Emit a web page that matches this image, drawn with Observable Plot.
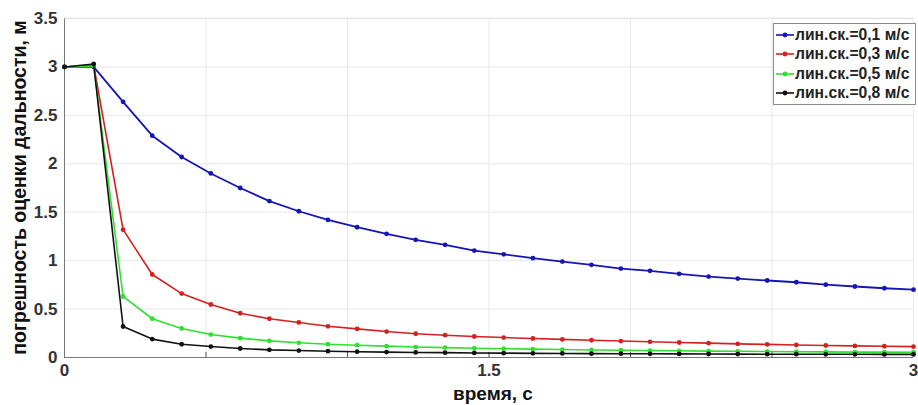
<!DOCTYPE html>
<html>
<head>
<meta charset="utf-8">
<script src="https://cdn.jsdelivr.net/npm/d3@7"></script>
<script src="https://cdn.jsdelivr.net/npm/@observablehq/plot@0.6"></script>
<style>
  html, body { margin: 0; padding: 0; background: #fff; }
  #wrap { position: relative; width: 918px; height: 405px; font-family: "Liberation Sans", Arial, sans-serif; }
  #legend { position: absolute; left: 773px; top: 23px; width: 141px; background: #fff; border: 1px solid #8a8a8a; padding: 1px 0 1px 0; }
  .row { display: flex; align-items: center; height: 19.5px; font-weight: bold; font-size: 15.7px; color: #222; white-space: nowrap; }
  .row svg { margin: 0 1px 0 2px; }
</style>
</head>
<body>
<div id="wrap"><div id="legend"></div></div>
<script>
// time, s
const time = [0, 0.103, 0.207, 0.310, 0.414, 0.517, 0.621, 0.724, 0.828, 0.931, 1.034, 1.138, 1.241, 1.345, 1.448, 1.552, 1.655, 1.759, 1.862, 1.966, 2.069, 2.172, 2.276, 2.379, 2.483, 2.586, 2.690, 2.793, 2.897, 3.0];
// range estimate error, m
const v01 = [3.00, 3.00, 2.64, 2.29, 2.07, 1.90, 1.75, 1.615, 1.51, 1.42, 1.345, 1.277, 1.215, 1.163, 1.104, 1.065, 1.025, 0.99, 0.957, 0.918, 0.895, 0.864, 0.836, 0.815, 0.795, 0.777, 0.752, 0.733, 0.715, 0.70];
const v03 = [3.00, 3.02, 1.32, 0.857, 0.66, 0.547, 0.457, 0.40, 0.362, 0.322, 0.296, 0.268, 0.245, 0.23, 0.217, 0.206, 0.196, 0.187, 0.178, 0.17, 0.162, 0.155, 0.148, 0.141, 0.135, 0.129, 0.124, 0.12, 0.116, 0.112];
const v05 = [3.00, 3.01, 0.63, 0.40, 0.30, 0.237, 0.20, 0.172, 0.152, 0.137, 0.127, 0.117, 0.108, 0.102, 0.096, 0.091, 0.086, 0.082, 0.078, 0.075, 0.072, 0.069, 0.066, 0.064, 0.062, 0.060, 0.058, 0.056, 0.055, 0.054];
const v08 = [3.00, 3.03, 0.32, 0.19, 0.137, 0.113, 0.093, 0.079, 0.072, 0.065, 0.060, 0.056, 0.052, 0.050, 0.047, 0.045, 0.043, 0.042, 0.040, 0.039, 0.038, 0.037, 0.036, 0.035, 0.034, 0.034, 0.033, 0.033, 0.032, 0.032];

const seriesNames = ["лин.ск.=0,1 м/с", "лин.ск.=0,3 м/с", "лин.ск.=0,5 м/с", "лин.ск.=0,8 м/с"];
const seriesValues = [v01, v03, v05, v08];
const seriesColors = ["#1515b5", "#d42020", "#2fe02f", "#111111"];

const xTicks = [0, 0.5, 1, 1.5, 2, 2.5, 3];
const xTickLabels = ["0", "", "", "1.5", "", "", "3"];
const yTicks = [0, 0.5, 1, 1.5, 2, 2.5, 3, 3.5];
const yTickLabels = ["0", "0.5", "1", "1.5", "2", "2.5", "3", "3.5"];

const xLabel = "время, с";
const yLabel = "погрешность оценки дальности, м";

const rows = [];
seriesValues.forEach((vals, s) => vals.forEach((v, i) => rows.push({t: time[i], v, s})));

const W = 918, H = 405, mt = 18, mb = 48, ml = 64, mr = 5;
const plotH = H - mt - mb;

const marks = [
  Plot.ruleY(yTicks.slice(1), {stroke: "#e8e8e8", strokeWidth: 1}),
  Plot.ruleX(xTicks.slice(1), {stroke: "#e8e8e8", strokeWidth: 1}),
  Plot.ruleX(xTicks.slice(1, -1), {stroke: "#555", strokeWidth: 1, insetTop: plotH - 5}),
  Plot.axisY({ticks: yTicks, tickSize: 0, tickPadding: 7, tickFormat: (d, i) => yTickLabels[i], label: null, fontSize: 17, fontWeight: "bold", fill: "#333"}),
  Plot.axisX({ticks: xTicks, tickSize: 0, tickPadding: 6, tickFormat: (d, i) => xTickLabels[i], label: null, fontSize: 17, fontWeight: "bold", fill: "#333"}),
  Plot.ruleY([0], {stroke: "#777", strokeWidth: 1}),
  Plot.ruleX([0], {stroke: "#777", strokeWidth: 1})
];
seriesValues.forEach((vals, s) => {
  const d = rows.filter(r => r.s === s);
  marks.push(Plot.line(d, {x: "t", y: "v", stroke: seriesColors[s], strokeWidth: s === 0 ? 1.8 : 1.6}));
  marks.push(Plot.dot(d, {x: "t", y: "v", fill: seriesColors[s], r: 2.4, stroke: "none"}));
});

const chart = Plot.plot({
  width: W, height: H,
  marginTop: mt, marginBottom: mb, marginLeft: ml, marginRight: mr,
  x: {domain: [0, 3]},
  y: {domain: [0, 3.5]},
  style: {fontFamily: "Liberation Sans, Arial, sans-serif", background: "#fff", overflow: "visible"},
  marks
});

// axis titles
const svg = d3.select(chart);
svg.append("text").attr("x", 493).attr("y", H - 5)
  .attr("text-anchor", "middle").attr("font-size", 19).attr("font-weight", "bold").attr("fill", "#111").text(xLabel);
svg.append("text").attr("transform", `translate(${26},${mt + plotH / 2}) rotate(-90)`)
  .attr("text-anchor", "middle").attr("font-size", 19.5).attr("font-weight", "bold").attr("fill", "#111").text(yLabel);
svg.append("line").attr("x1", ml).attr("x2", W - mr).attr("y1", mt).attr("y2", mt).attr("stroke", "#e3e3e3");

document.getElementById("wrap").prepend(chart);

const legend = document.getElementById("legend");
seriesNames.forEach((name, s) => {
  const row = document.createElement("div");
  row.className = "row";
  row.innerHTML = `<svg width="18" height="10"><line x1="0" x2="18" y1="5" y2="5" stroke="${seriesColors[s]}" stroke-width="1.6"/><circle cx="9" cy="5" r="2.4" fill="${seriesColors[s]}"/></svg><span>${name}</span>`;
  legend.appendChild(row);
});
</script>
</body>
</html>
